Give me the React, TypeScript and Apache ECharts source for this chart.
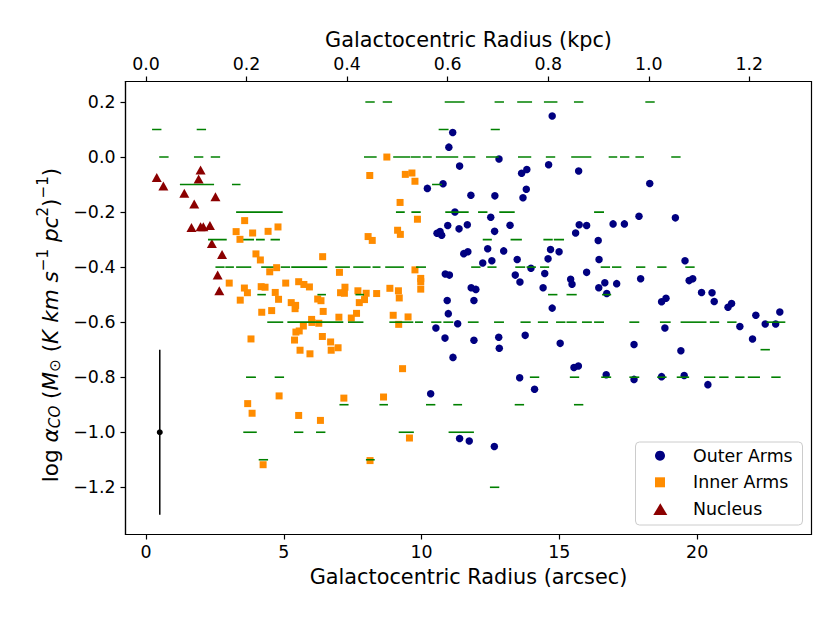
import React, { useEffect, useRef } from "react";
import * as echarts from "echarts";

// ---- data (arcsec, log alpha_CO) ----
const outerArms: [number, number][] = [
  [14.74, 0.149], [11.13, 0.089], [10.99, 0.036], [12.81, -0.007], [11.38, -0.033], [14.61, -0.028],
  [15.7, -0.051], [13.63, -0.059], [13.82, -0.045], [10.21, -0.114], [10.78, -0.097], [18.28, -0.096],
  [13.8, -0.117], [13.68, -0.148], [11.79, -0.139], [12.66, -0.141], [11.21, -0.2], [12.51, -0.219],
  [10.95, -0.249], [11.36, -0.261], [11.66, -0.246], [10.56, -0.277], [10.67, -0.271], [10.73, -0.284],
  [12.65, -0.27], [13.21, -0.248], [15.72, -0.246], [15.99, -0.249], [15.59, -0.276], [16.95, -0.243],
  [17.36, -0.243], [17.89, -0.215], [19.21, -0.221], [16.41, -0.303], [11.53, -0.351], [11.68, -0.344],
  [12.4, -0.333], [12.98, -0.341], [12.22, -0.385], [12.55, -0.377], [13.47, -0.372], [14.68, -0.336],
  [14.99, -0.344], [14.59, -0.37], [16.44, -0.372], [13.97, -0.404], [13.4, -0.429], [13.57, -0.454],
  [14.47, -0.423], [15.99, -0.419], [15.41, -0.444], [15.46, -0.462], [16.43, -0.475], [16.65, -0.457],
  [17.08, -0.46], [16.72, -0.496], [17.95, -0.442], [19.56, -0.377], [19.71, -0.449], [19.84, -0.442],
  [10.86, -0.425], [11.01, -0.429], [11.8, -0.475], [11.97, -0.481], [10.93, -0.521], [11.9, -0.521],
  [10.97, -0.569], [14.41, -0.475], [14.74, -0.549], [18.71, -0.526], [18.87, -0.513], [20.16, -0.492],
  [20.54, -0.493], [20.62, -0.525], [21.12, -0.546], [21.25, -0.532], [22.13, -0.575], [23.0, -0.563],
  [10.52, -0.621], [10.85, -0.658], [11.14, -0.728], [11.31, -0.606], [11.9, -0.666], [12.8, -0.655],
  [12.82, -0.695], [13.76, -0.648], [15.03, -0.677], [17.71, -0.681], [18.83, -0.621], [19.41, -0.704],
  [21.55, -0.616], [22.01, -0.661], [22.47, -0.607], [22.85, -0.607], [13.56, -0.802], [14.1, -0.844],
  [15.53, -0.765], [15.69, -0.759], [16.7, -0.791], [17.71, -0.808], [18.71, -0.798], [19.53, -0.794],
  [20.39, -0.827], [10.33, -0.86], [11.38, -1.023], [11.73, -1.032], [12.64, -1.052],
];

const innerArms: [number, number][] = [
  [8.74, 0.0], [8.12, -0.067], [9.41, -0.063], [9.65, -0.058], [9.76, -0.088], [9.22, -0.165],
  [9.85, -0.226], [3.58, -0.231], [3.27, -0.271], [3.41, -0.299], [3.87, -0.276], [4.43, -0.27],
  [4.79, -0.254], [9.13, -0.266], [9.23, -0.281], [8.06, -0.289], [8.21, -0.303], [3.99, -0.352],
  [4.15, -0.374], [6.41, -0.362], [4.74, -0.402], [4.49, -0.417], [7.02, -0.419], [9.76, -0.41],
  [9.97, -0.441], [9.97, -0.453], [9.97, -0.48], [3.02, -0.458], [3.57, -0.476], [3.68, -0.493],
  [4.18, -0.471], [4.32, -0.473], [4.69, -0.492], [4.81, -0.517], [5.07, -0.458], [5.54, -0.453],
  [5.73, -0.463], [5.93, -0.472], [5.27, -0.529], [5.43, -0.539], [5.41, -0.551], [6.23, -0.516],
  [6.35, -0.522], [6.43, -0.561], [3.42, -0.52], [4.2, -0.564], [4.56, -0.558], [7.06, -0.493],
  [7.22, -0.473], [7.2, -0.495], [7.69, -0.486], [7.99, -0.495], [7.93, -0.518], [7.74, -0.529],
  [7.64, -0.568], [7.45, -0.585], [8.37, -0.496], [8.85, -0.477], [9.16, -0.486], [9.19, -0.512],
  [8.97, -0.575], [9.51, -0.581], [7.0, -0.582], [6.01, -0.59], [5.71, -0.614], [6.02, -0.601],
  [6.27, -0.604], [5.44, -0.636], [5.56, -0.632], [5.39, -0.665], [5.59, -0.702], [5.95, -0.715],
  [6.4, -0.652], [6.7, -0.672], [6.72, -0.702], [6.97, -0.693], [3.81, -0.661], [9.17, -0.608],
  [9.31, -0.769], [3.69, -0.896], [3.85, -0.931], [4.83, -0.868], [5.54, -0.939], [6.33, -0.957],
  [7.18, -0.876], [8.62, -0.872], [9.56, -1.021], [4.25, -1.118], [8.13, -1.103],
];

const nucleus: [number, number][] = [
  [0.39, -0.074], [0.63, -0.105], [1.98, -0.047], [1.91, -0.08], [1.39, -0.132], [1.75, -0.171],
  [2.52, -0.144], [1.65, -0.256], [1.98, -0.253], [2.08, -0.253], [2.32, -0.249], [2.39, -0.314],
  [2.76, -0.354], [2.6, -0.429], [2.66, -0.486],
];

// upper limits: [x start, x end, log alpha]
const upperLimits: [number, number, number][] = [
  [7.96, 8.3, 0.2], [8.59, 8.93, 0.2], [10.84, 11.56, 0.2], [12.65, 12.99, 0.2], [13.47, 14.01, 0.2],
  [14.44, 14.93, 0.2], [15.53, 15.87, 0.2], [18.12, 18.46, 0.2],
  [0.22, 0.56, 0.1], [1.84, 2.18, 0.1], [10.62, 10.98, 0.1], [12.51, 12.84, 0.1],
  [0.48, 0.82, 0.0], [1.74, 2.08, 0.0], [2.35, 2.69, 0.0], [7.91, 8.37, 0.0], [8.97, 9.58, 0.0],
  [9.6, 9.97, 0.0], [10.04, 10.37, 0.0], [10.52, 11.33, 0.0], [11.51, 11.95, 0.0], [12.34, 12.8, 0.0],
  [13.5, 13.98, 0.0], [14.51, 14.85, 0.0], [15.43, 16.16, 0.0], [16.79, 17.1, 0.0], [17.2, 17.54, 0.0],
  [17.76, 18.07, 0.0], [19.06, 19.4, 0.0],
  [1.23, 2.47, -0.1], [3.12, 3.43, -0.1], [10.38, 10.74, -0.1],
  [3.27, 4.96, -0.2], [9.07, 9.39, -0.2], [9.63, 9.97, -0.2], [10.86, 11.71, -0.2], [12.05, 12.39, -0.2],
  [12.82, 13.38, -0.2], [16.26, 16.62, -0.2],
  [2.25, 2.93, -0.3], [3.53, 3.92, -0.3], [3.99, 4.31, -0.3], [4.52, 4.86, -0.3], [12.22, 12.55, -0.3],
  [13.23, 13.64, -0.3], [14.42, 14.76, -0.3], [14.8, 15.17, -0.3],
  [2.52, 2.85, -0.4], [2.88, 3.19, -0.4], [3.27, 3.82, -0.4], [4.18, 4.62, -0.4], [4.89, 5.23, -0.4],
  [5.27, 6.58, -0.4], [6.87, 7.4, -0.4], [7.52, 8.15, -0.4], [8.22, 8.51, -0.4], [8.68, 9.36, -0.4],
  [9.8, 10.16, -0.4], [11.8, 12.14, -0.4], [12.39, 12.72, -0.4], [13.4, 13.76, -0.4], [13.81, 14.15, -0.4],
  [14.3, 14.63, -0.4], [16.5, 16.84, -0.4], [16.91, 17.25, -0.4], [17.78, 18.12, -0.4], [18.55, 18.89, -0.4],
  [19.57, 19.91, -0.4],
  [4.04, 4.35, -0.5], [6.22, 6.53, -0.5], [7.6, 7.91, -0.5], [14.59, 14.93, -0.5], [15.26, 15.63, -0.5],
  [16.55, 16.88, -0.5],
  [4.4, 4.98, -0.6], [5.13, 7.16, -0.6], [7.33, 7.89, -0.6], [8.83, 9.7, -0.6], [9.76, 10.05, -0.6],
  [10.35, 10.72, -0.6], [10.79, 11.15, -0.6], [11.68, 12.07, -0.6], [12.63, 12.99, -0.6], [13.59, 13.96, -0.6],
  [14.22, 14.59, -0.6], [14.88, 15.22, -0.6], [15.26, 15.63, -0.6], [15.82, 16.18, -0.6], [16.26, 16.62, -0.6],
  [17.54, 17.9, -0.6], [18.65, 19.04, -0.6], [19.4, 20.34, -0.6], [20.46, 20.8, -0.6], [21.09, 21.43, -0.6],
  [22.52, 23.2, -0.6],
  [22.3, 22.64, -0.7],
  [3.63, 3.99, -0.8], [4.67, 5.01, -0.8], [13.93, 14.27, -0.8], [15.38, 15.72, -0.8], [16.52, 16.88, -0.8],
  [17.54, 17.9, -0.8], [18.55, 18.89, -0.8], [19.26, 19.71, -0.8], [20.25, 20.66, -0.8], [20.8, 21.14, -0.8],
  [21.38, 21.72, -0.8], [21.84, 22.28, -0.8], [22.69, 23.03, -0.8],
  [7.02, 7.35, -0.9], [8.47, 8.78, -0.9], [10.16, 10.5, -0.9], [11.15, 11.47, -0.9], [13.38, 13.72, -0.9],
  [15.53, 15.87, -0.9],
  [3.53, 4.02, -1.0], [5.37, 5.71, -1.0], [6.17, 6.51, -1.0], [9.17, 9.72, -1.0], [10.98, 11.9, -1.0],
  [4.09, 4.43, -1.1], [7.98, 8.3, -1.1],
  [12.48, 12.82, -1.2],
];

// representative error bar: [x, y, low, high]
const errorBar: [number, number, number, number][] = [[0.5, -1.0, -1.3, -0.7]];

const bottomTicks = [0, 5, 10, 15, 20];
const topTicks = [0.0, 0.2, 0.4, 0.6, 0.8, 1.0, 1.2];
const yTicks = [-1.2, -1.0, -0.8, -0.6, -0.4, -0.2, 0.0, 0.2];
const legendNames = ["Outer Arms", "Inner Arms", "Nucleus"];

const KPC_PER_ARCSEC = 0.05481;
const X_MIN = -0.744;
const X_MAX = 24.15;
const Y_MIN = -1.3716;
const Y_MAX = 0.2745;

const FONT = '"DejaVu Sans", sans-serif';
const minus = (s: string) => s.replace("-", "\u2212");

export default function App() {
  const ref = useRef<HTMLDivElement>(null);
  useEffect(() => {
    if (!ref.current) return;
    const chart = echarts.init(ref.current, undefined, { renderer: "svg" });
    const axisCommon = {
      axisLine: { show: true, onZero: false, lineStyle: { color: "#000", width: 1.2 } },
      axisTick: { show: true, length: 5, lineStyle: { color: "#000", width: 1.2 } },
      splitLine: { show: false },
      nameTextStyle: { fontFamily: FONT, fontSize: 20.8, color: "#000" },
    };
    const labelBase = { fontFamily: FONT, fontSize: 17.4, color: "#000", margin: 9 };
    const rs = (extra: any) => ({ fontFamily: FONT, fontSize: 21.6, color: "#000", ...extra });
    const option: any = {
      animation: false,
      backgroundColor: "#fff",
      grid: {
        left: 125.5, top: 81.5, right: 19.5, bottom: 87.5,
        show: true, borderColor: "#000", borderWidth: 1.2, backgroundColor: "transparent",
      },
      xAxis: [
        {
          ...axisCommon,
          type: "value", position: "bottom", min: X_MIN, max: X_MAX,
          name: "Galactocentric Radius (arcsec)", nameLocation: "middle", nameGap: 32,
          axisTick: { ...axisCommon.axisTick, customValues: bottomTicks },
          axisLabel: { ...labelBase, customValues: bottomTicks, formatter: (v: number) => String(Math.round(v)) },
        },
        {
          ...axisCommon,
          type: "value", position: "top", min: X_MIN * KPC_PER_ARCSEC, max: X_MAX * KPC_PER_ARCSEC,
          name: "Galactocentric Radius (kpc)", nameLocation: "middle", nameGap: 29,
          axisTick: { ...axisCommon.axisTick, customValues: topTicks },
          axisLabel: { ...labelBase, customValues: topTicks, formatter: (v: number) => v.toFixed(1) },
        },
      ],
      yAxis: [
        {
          ...axisCommon,
          type: "value", min: Y_MIN, max: Y_MAX,
          name:
            "{n|log }{i|\u03b1}{sub|CO}{n| (}{i|M}{sub2|\u2299}{n| (}{i|K}{n| }{i|km}{n| }{i|s}{sup|\u22121}{n| }{i|pc}{sup|2}{n|)}{sup|\u22121}{n|)}",
          nameLocation: "middle", nameGap: 57, nameRotate: 90,
          nameTextStyle: {
            fontFamily: FONT, fontSize: 21.6, color: "#000", padding: [0, 34, 0, 0],
            rich: {
              n: rs({}),
              i: rs({ fontStyle: "italic" }),
              sub: rs({ fontSize: 15.1, fontStyle: "italic", padding: [9, 0, 0, 0] }),
              sub2: rs({ fontSize: 15.1, padding: [9, 0, 0, 0] }),
              sup: rs({ fontSize: 15.1, padding: [0, 0, 14, 0] }),
            },
          },
          axisTick: { ...axisCommon.axisTick, customValues: yTicks },
          axisLabel: { ...labelBase, margin: 10, customValues: yTicks, formatter: (v: number) => minus(v.toFixed(1)) },
        },
      ],
      series: [
        {
          name: legendNames[0], type: "scatter", data: outerArms, symbol: "circle", symbolSize: 7.5,
          itemStyle: { color: "#000080", opacity: 1 }, z: 3,
        },
        {
          name: legendNames[1], type: "scatter", data: innerArms, symbol: "rect", symbolSize: 7,
          itemStyle: { color: "#ff8c00", opacity: 1 }, z: 3,
        },
        {
          name: legendNames[2], type: "scatter", data: nucleus, symbol: "triangle", symbolSize: [10, 9],
          itemStyle: { color: "#8b0000", opacity: 1 }, z: 3,
        },
        {
          name: "upper limits", type: "custom", data: upperLimits, z: 5, clip: true,
          encode: { x: [0, 1], y: 2 },
          renderItem: (_p: any, api: any) => {
            const a = api.coord([api.value(0), api.value(2)]);
            const b = api.coord([api.value(1), api.value(2)]);
            return {
              type: "line",
              shape: { x1: a[0], y1: a[1], x2: b[0], y2: b[1] },
              style: { stroke: "#008000", lineWidth: 1.6 },
            };
          },
        },
        {
          name: "error", type: "custom", data: errorBar, z: 6,
          encode: { x: 0, y: [1, 2, 3] },
          renderItem: (_p: any, api: any) => {
            const c = api.coord([api.value(0), api.value(1)]);
            const lo = api.coord([api.value(0), api.value(2)]);
            const hi = api.coord([api.value(0), api.value(3)]);
            return {
              type: "group",
              children: [
                { type: "line", shape: { x1: lo[0], y1: lo[1], x2: hi[0], y2: hi[1] }, style: { stroke: "#000", lineWidth: 1.5 } },
                { type: "circle", shape: { cx: c[0], cy: c[1], r: 3 }, style: { fill: "#000" } },
              ],
            };
          },
        },
      ],
      graphic: [
        {
          type: "rect", z: 100,
          shape: { x: 635.5, y: 442, width: 167, height: 83, r: 4 },
          style: { fill: "rgba(255,255,255,0.8)", stroke: "#cccccc", lineWidth: 1 },
        },
        { type: "circle", z: 101, shape: { cx: 660, cy: 455.7, r: 5 }, style: { fill: "#000080" } },
        { type: "rect", z: 101, shape: { x: 655, y: 477.3, width: 10, height: 10 }, style: { fill: "#ff8c00" } },
        {
          type: "polygon", z: 101,
          shape: { points: [[660.3, 503.3], [667.3, 515], [653.3, 515]] },
          style: { fill: "#8b0000" },
        },
        ...legendNames.map((t, i) => ({
          type: "text", z: 101, x: 693, y: 455.7 + i * 26.7,
          style: { text: t, fontFamily: FONT, fontSize: 17.4, fill: "#000", verticalAlign: "middle", align: "left" },
        })),
      ],
    };
    chart.setOption(option);
    return () => chart.dispose();
  }, []);
  return (
    <div
      ref={ref}
      style={{ position: "absolute", left: 0, top: 0, width: 831, height: 622, background: "#fff" }}
    />
  );
}
